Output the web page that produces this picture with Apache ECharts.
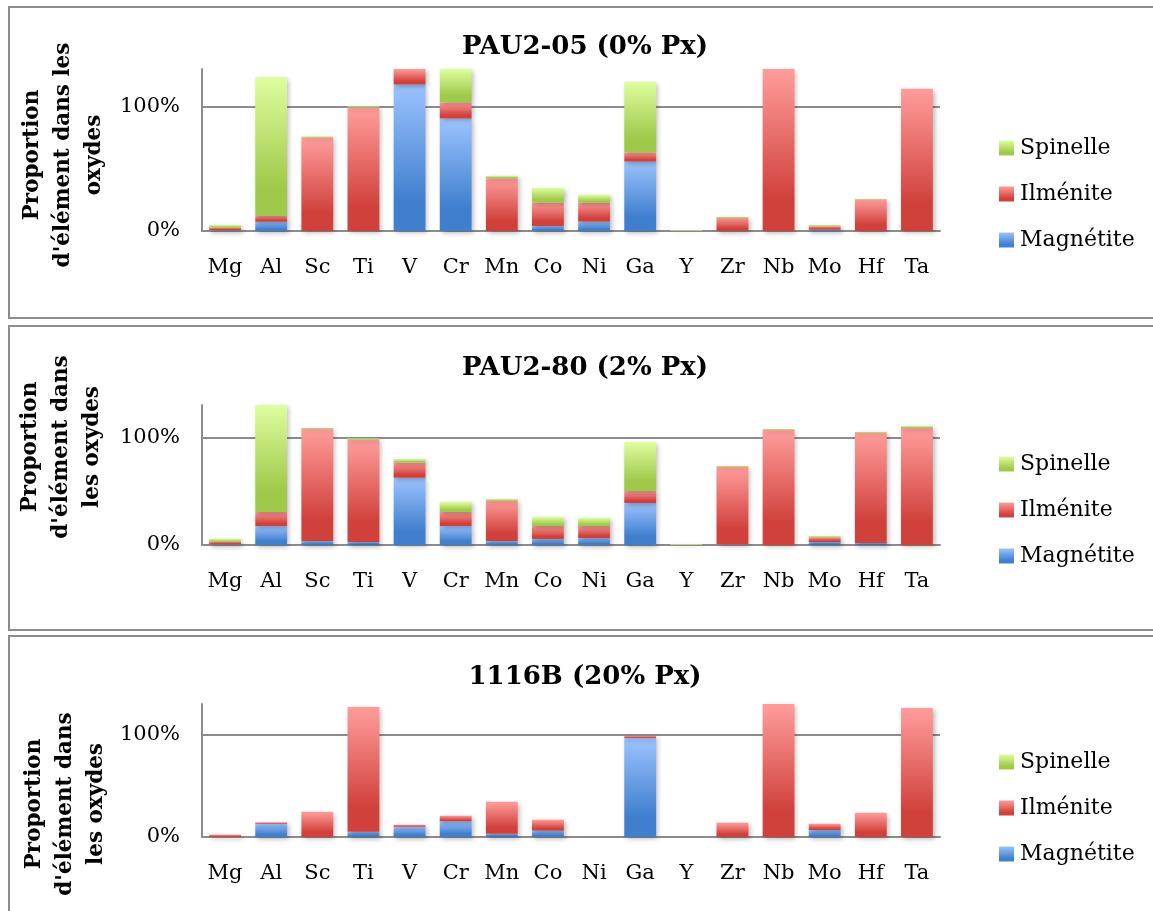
<!DOCTYPE html>
<html>
<head>
<meta charset="utf-8">
<title>Proportion d'élément dans les oxydes</title>
<script src="https://cdn.jsdelivr.net/npm/echarts@6/dist/echarts.min.js"></script>
<style>
  html, body { margin: 0; padding: 0; background: #ffffff; }
  #chart { width: 1153px; height: 911px; }
</style>
</head>
<body>
<div id="chart"></div>
<script>
// Elements on the x axis
const categories = ['Mg', 'Al', 'Sc', 'Ti', 'V', 'Cr', 'Mn', 'Co', 'Ni', 'Ga', 'Y', 'Zr', 'Nb', 'Mo', 'Hf', 'Ta'];

// Sample titles and y-axis captions
const sampleTitles = ['PAU2-05 (0% Px)', 'PAU2-80 (2% Px)', '1116B (20% Px)'];
const axisNames = [
  "Proportion\nd'élément dans les\noxydes",
  "Proportion\nd'élément dans\nles oxydes",
  "Proportion\nd'élément dans\nles oxydes"
];
const seriesNames = ['Magnétite', 'Ilménite', 'Spinelle'];
const tickLabels = { 0: '0%', 1: '100%' };

// PAU2-05 (0% Px): fraction of each element hosted by each oxide
const magnetite05 = [0.005, 0.075, 0, 0, 1.175, 0.903, 0, 0.04, 0.075, 0.558, 0, 0, 0, 0.01, 0, 0];
const ilmenite05  = [0.022, 0.045, 0.75, 0.99, 0.2, 0.129, 0.424, 0.188, 0.153, 0.072, 0, 0.105, 1.4, 0.028, 0.252, 1.142];
const spinelle05  = [0.021, 1.115, 0.01, 0.01, 0, 0.35, 0.018, 0.118, 0.062, 0.568, 0.004, 0.008, 0, 0.01, 0.005, 0];

// PAU2-80 (2% Px)
const magnetite80 = [0.005, 0.176, 0.037, 0.028, 0.625, 0.176, 0.037, 0.056, 0.065, 0.39, 0, 0.005, 0, 0.028, 0.019, 0];
const ilmenite80  = [0.025, 0.131, 1.043, 0.947, 0.14, 0.131, 0.375, 0.12, 0.111, 0.112, 0, 0.719, 1.068, 0.043, 1.021, 1.087];
const spinelle80  = [0.026, 1.05, 0.007, 0.013, 0.034, 0.092, 0.015, 0.084, 0.075, 0.455, 0.006, 0.01, 0.009, 0.013, 0.01, 0.018];

// 1116B (20% Px)
const magnetite16 = [0, 0.13, 0, 0.052, 0.1, 0.153, 0.032, 0.062, 0, 0.968, 0, 0, 0, 0.068, 0, 0];
const ilmenite16  = [0.023, 0.013, 0.247, 1.218, 0.02, 0.055, 0.312, 0.107, 0, 0.019, 0, 0.14, 1.35, 0.062, 0.237, 1.26];
const spinelle16  = [0, 0, 0, 0, 0, 0, 0, 0, 0, 0, 0, 0, 0, 0, 0, 0];

const panelData = [
  [magnetite05, ilmenite05, spinelle05],
  [magnetite80, ilmenite80, spinelle80],
  [magnetite16, ilmenite16, spinelle16]
];

// Vertical gradients: light at the top of each segment, dark at the bottom
function grad(light, dark) {
  return new echarts.graphic.LinearGradient(0, 0, 0, 1, [
    { offset: 0, color: light },
    { offset: 0.8, color: dark },
    { offset: 1, color: dark }
  ]);
}
const fills = [
  grad('#9cc3ff', '#3f7fce'),
  grad('#ff9d9b', '#d1413c'),
  grad('#defe9f', '#9fc94a')
];

const FONT = 'DejaVu Serif';
const AXIS_GRAY = '#8c8c8c';

// Plot areas, one per sample
const grids = [
  { left: 202, width: 738, top: 69, height: 162 },
  { left: 202, width: 738, top: 405, height: 140 },
  { left: 202, width: 738, top: 704, height: 133 }
];
const titleTops = [34, 355, 664];
const legendTops = [137, 453, 751];
const boxes = [
  { y: 7, h: 311 },
  { y: 326, h: 304 },
  { y: 636, h: 290 }
];
// Centre of each rotated y-axis caption
const captionPos = [
  { x: 63, y: 155 },
  { x: 61, y: 447 },
  { x: 65, y: 804 }
];

const graphics = boxes.map(b => ({
  type: 'rect',
  shape: { x: 9, y: b.y, width: 1160, height: b.h },
  style: { fill: 'none', stroke: AXIS_GRAY, lineWidth: 2 },
  silent: true,
  z: -1
}));
captionPos.forEach((c, i) => {
  graphics.push({
    type: 'text',
    x: c.x,
    y: c.y,
    rotation: Math.PI / 2,
    silent: true,
    style: {
      text: axisNames[i],
      font: 'bold 21.5px "DejaVu Serif"',
      fill: '#000',
      align: 'center',
      verticalAlign: 'middle',
      lineHeight: 31
    }
  });
});

const option = {
  animation: false,
  backgroundColor: '#ffffff',
  textStyle: { fontFamily: FONT },
  graphic: graphics,
  title: sampleTitles.map((t, i) => ({
    text: t,
    left: 585,
    textAlign: 'center',
    top: titleTops[i],
    padding: 0,
    textStyle: { fontFamily: FONT, fontWeight: 'bold', fontSize: 26, color: '#000' }
  })),
  legend: legendTops.map(top => ({
    data: ['Spinelle', 'Ilménite', 'Magnétite'],
    orient: 'vertical',
    left: 999,
    top: top,
    padding: 0,
    itemGap: 24,
    itemWidth: 15,
    itemHeight: 15,
    icon: 'rect',
    selectedMode: false,
    textStyle: { fontFamily: FONT, fontSize: 22, color: '#000', padding: [0, 0, 0, 1] }
  })),
  grid: grids,
  xAxis: grids.map((g, i) => ({
    type: 'category',
    gridIndex: i,
    data: categories,
    axisLine: { show: true, lineStyle: { color: AXIS_GRAY, width: 2 } },
    axisTick: { show: false },
    axisLabel: { fontFamily: FONT, fontSize: 21, color: '#000', margin: 26 }
  })),
  yAxis: grids.map((g, i) => ({
    type: 'value',
    gridIndex: i,
    min: 0,
    max: 1.3,
    interval: 1,
    axisLine: { show: true, lineStyle: { color: AXIS_GRAY, width: 2 } },
    axisTick: { show: false },
    axisLabel: {
      fontFamily: FONT, fontSize: 21, color: '#000', margin: 22,
      showMaxLabel: false,
      formatter: v => tickLabels[v] !== undefined ? tickLabels[v] : ''
    },
    splitLine: { show: true, showMinLine: false, showMaxLine: false, lineStyle: { color: AXIS_GRAY, width: 2 } }
  })),
  series: []
};

panelData.forEach((sets, p) => {
  sets.forEach((values, s) => {
    option.series.push({
      name: seriesNames[s],
      type: 'bar',
      stack: 'panel' + p,
      xAxisIndex: p,
      yAxisIndex: p,
      barWidth: '69%',
      clip: true,
      data: values.map(v => (v > 0 ? v : null)),
      itemStyle: {
        color: fills[s],
        shadowColor: 'rgba(0,0,0,0.28)',
        shadowBlur: 5,
        shadowOffsetX: 2,
        shadowOffsetY: 2
      }
    });
  });
});

const chart = echarts.init(document.getElementById('chart'), null, { renderer: 'canvas' });
chart.setOption(option);
</script>
</body>
</html>
